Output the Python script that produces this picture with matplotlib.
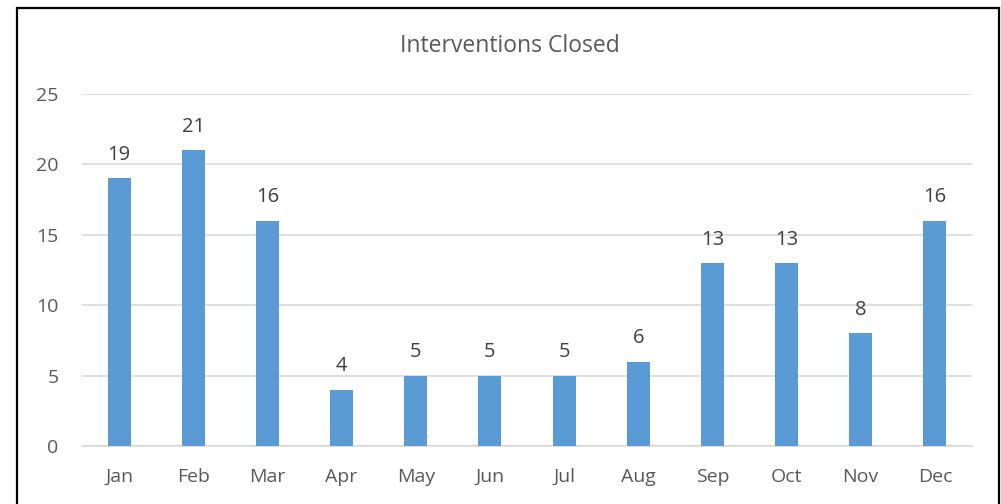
import matplotlib.pyplot as plt
from matplotlib.patches import Rectangle

months = ['Jan', 'Feb', 'Mar', 'Apr', 'May', 'Jun', 'Jul', 'Aug', 'Sep', 'Oct', 'Nov', 'Dec']
closed = [19, 21, 16, 4, 5, 5, 5, 6, 13, 13, 8, 16]

plt.rcParams['font.family'] = ['Open Sans', 'DejaVu Sans']
txt = '#595959'

fig = plt.figure(figsize=(10.01, 5.04), dpi=100)
ax = fig.add_axes([82 / 1001, 58 / 504, 890 / 1001, 352 / 504])

x = range(len(months))
bars = ax.bar(x, closed, width=0.31, color='#5B9BD5', zorder=3)
for i, v in enumerate(closed):
    ax.text(i, v + 0.95, str(v), ha='center', va='bottom', fontsize=14.5, color='#404040')

ax.set_xlim(-0.5, len(months) - 0.5)
ax.set_ylim(0, 25)
ax.set_yticks(range(0, 26, 5))
ax.set_xticks(list(x))
ax.set_xticklabels(months)
ax.yaxis.grid(True, color='#D9D9D9', linewidth=1.2, zorder=0)
for s in ['top', 'right', 'left']:
    ax.spines[s].set_visible(False)
ax.spines['bottom'].set_color('#D9D9D9')
ax.spines['bottom'].set_linewidth(1.2)
ax.tick_params(axis='both', length=0, labelsize=14, colors=txt)
ax.tick_params(axis='x', pad=16)
ax.tick_params(axis='y', pad=17)

fig.text(510 / 1001, 1 - 46 / 504, 'Interventions Closed', ha='center', va='center',
         fontsize=16.5, color=txt)

# black frame around the chart
fig.patches.append(Rectangle((17 / 1001, -0.05), 982 / 1001, 1 - 8 / 504 + 0.05,
                             transform=fig.transFigure, fill=False,
                             edgecolor='black', linewidth=1.6))

plt.savefig('out.png', dpi=100)
